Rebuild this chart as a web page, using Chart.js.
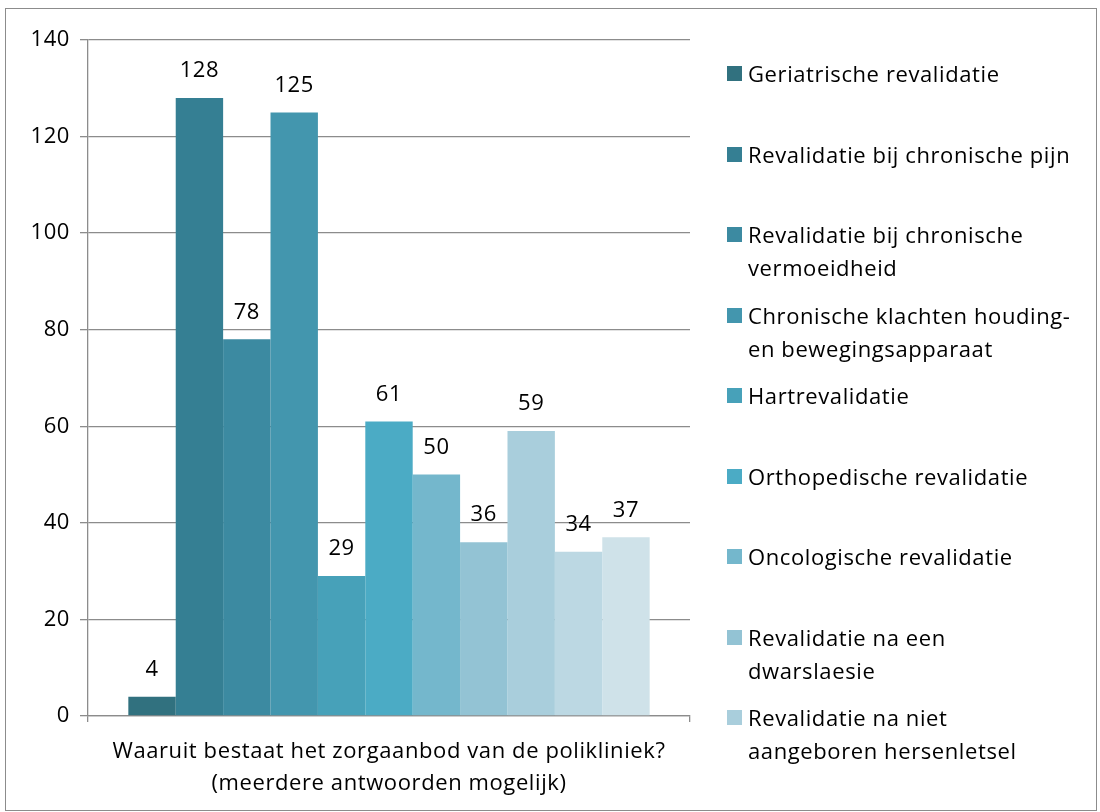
<!DOCTYPE html>
<html>
<head>
<meta charset="utf-8">
<script src="https://cdn.jsdelivr.net/npm/chart.js@4"></script>
<style>
  body { margin: 0; background: #fff; font-family: "Open Sans", sans-serif; }
  #wrap { position: relative; width: 1100px; height: 812px; }
  #frame { position: absolute; left: 5px; top: 8px; width: 1090px; height: 801px; border: 1px solid #8c8c8c; }
  #chart { position: absolute; left: 0; top: 0; }
  #legend { position: absolute; left: 727px; top: 0; width: 360px; }
  .item { position: absolute; left: 0; width: 348px; font-size: 22px; letter-spacing: 0.6px; line-height: 33px; color: #000; }
  .item span.box { position: absolute; left: 0; top: 9px; width: 15px; height: 15px; }
  .item span.txt { display: block; margin-left: 21px; }
</style>
</head>
<body>
<div id="wrap">
  <div id="frame"></div>
  <canvas id="chart" width="1100" height="812"></canvas>
  <div id="legend"></div>
</div>
<script>
// series (one bar per answer)
const seriesNames = [
    'Geriatrische revalidatie',
    'Revalidatie bij chronische pijn',
    'Revalidatie bij chronische vermoeidheid',
    'Chronische klachten houding- en bewegingsapparaat',
    'Hartrevalidatie',
    'Orthopedische revalidatie',
    'Oncologische revalidatie',
    'Revalidatie na een dwarslaesie',
    'Revalidatie na niet aangeboren hersenletsel',
    'Overig (1)',
    'Overig (2)'
];
const seriesValues = [4, 128, 78, 125, 29, 61, 50, 36, 59, 34, 37];
const seriesColors = [
    '#31717f', '#357f93', '#3c8aa1', '#4396ae', '#47a1b9', '#4babc5',
    '#74b7cc', '#93c3d4', '#a9cedc', '#bcd8e3', '#cfe2e9'
];
const legendCount = 9; // rest is cut off in the original
const categories = [''];
const axisTitle = ['Waaruit bestaat het zorgaanbod van de polikliniek?', '(meerdere antwoorden mogelijk)'];
const yTicks = { min: 0, max: 140, step: 20 };

const spacing = '0.6px';

// value labels above bars
const valueLabels = {
    id: 'valueLabels',
    beforeDraw(c) {
        c.ctx.letterSpacing = spacing;
    },
    afterDatasetsDraw(c) {
        const ctx = c.ctx;
        ctx.save();
        ctx.font = '22px "Open Sans"';
        ctx.fillStyle = '#000';
        ctx.textAlign = 'center';
        ctx.textBaseline = 'middle';
        c.data.datasets.forEach((ds, i) => {
            c.getDatasetMeta(i).data.forEach((bar, j) => {
                ctx.fillText(ds.data[j], bar.x, bar.y - 27);
            });
        });
        ctx.restore();
    }
};

const grey = '#8c8c8c';

new Chart(document.getElementById('chart'), {
    type: 'bar',
    data: {
        labels: categories,
        datasets: seriesNames.map((n, i) => ({
            label: n,
            data: [seriesValues[i]],
            backgroundColor: seriesColors[i],
            borderWidth: 0
        }))
    },
    options: {
        responsive: false,
        animation: false,
        layout: { padding: { top: 40, right: 410, left: 0, bottom: 0 } },
        datasets: { bar: { categoryPercentage: 0.866, barPercentage: 1 } },
        plugins: {
            legend: { display: false },
            tooltip: { enabled: false }
        },
        scales: {
            y: {
                min: yTicks.min,
                max: yTicks.max,
                ticks: { stepSize: yTicks.step, color: '#000', font: { family: 'Open Sans', size: 22 }, padding: 10 },
                grid: { color: grey, tickLength: 8, lineWidth: 1.3 },
                border: { color: grey, width: 1.3 },
                afterFit(s) { s.width = 88; }
            },
            x: {
                ticks: { display: true, font: { size: 1 } },
                grid: { offset: true, drawOnChartArea: false, tickLength: 6, color: grey, lineWidth: 1.3 },
                border: { color: grey, width: 1.3 },
                title: {
                    display: true,
                    text: axisTitle,
                    color: '#000',
                    font: { family: 'Open Sans', size: 22, lineHeight: 1.45 },
                    padding: { top: 4, bottom: 12 }
                },
                afterFit(s) { s.height = 96; }
            }
        }
    },
    plugins: [valueLabels]
});

// html legend
const legend = document.getElementById('legend');
for (let i = 0; i < legendCount; i++) {
    const d = document.createElement('div');
    d.className = 'item';
    d.style.top = (57 + i * 80.5) + 'px';
    d.innerHTML = '<span class="box" style="background:' + seriesColors[i] + '"></span><span class="txt">' + seriesNames[i] + '</span>';
    legend.appendChild(d);
}
</script>
</body>
</html>
